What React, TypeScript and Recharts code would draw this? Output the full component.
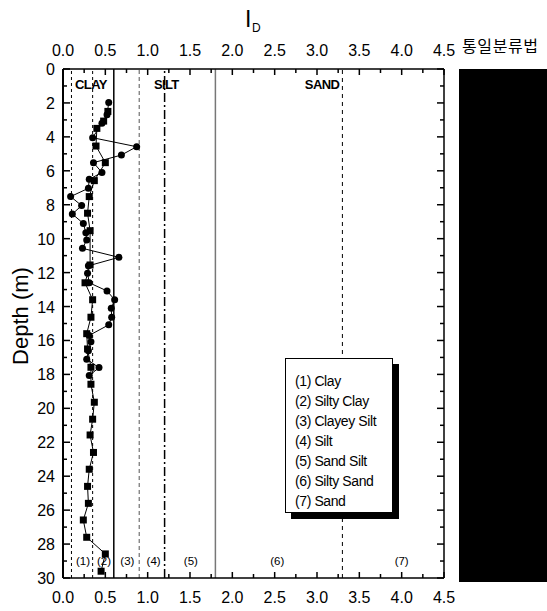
import React from "react";
import {
  ScatterChart,
  Scatter,
  XAxis,
  YAxis,
  ReferenceLine,
  ReferenceDot,
} from "recharts";

// circles (series 1)
const circleDepth = [
  1.98, 2.7, 3.2, 4.05, 4.58, 5.07, 5.52, 6.1, 6.5, 7.03, 7.52, 8.05, 8.55,
  9.1, 9.65, 10.08, 10.57, 11.1, 11.6, 12.04, 12.6, 13.08, 13.6, 14.1, 14.63,
  15.08, 15.7, 16.07, 16.6, 17.1, 17.6, 18.07,
];
const circleId = [
  0.54, 0.52, 0.46, 0.35, 0.87, 0.69, 0.36, 0.46, 0.31, 0.3, 0.09, 0.22, 0.11,
  0.24, 0.27, 0.28, 0.23, 0.66, 0.3, 0.29, 0.31, 0.52, 0.61, 0.57, 0.575, 0.54,
  0.31, 0.33, 0.3, 0.28, 0.425, 0.31,
];

// squares (series 2)
const squareDepth = [
  2.5, 3.07, 3.5, 4.54, 5.52, 6.58, 7.52, 8.5, 9.53, 11.55, 12.6, 13.6, 14.63,
  15.6, 16.5, 17.58, 18.58, 19.64, 20.64, 21.57, 22.6, 23.59, 24.6, 25.6,
  26.58, 27.6, 28.58, 29.6,
];
const squareId = [
  0.53, 0.48, 0.4, 0.39, 0.5, 0.37, 0.31, 0.29, 0.32, 0.32, 0.26, 0.35, 0.33,
  0.28, 0.29, 0.33, 0.33, 0.37, 0.35, 0.32, 0.36, 0.31, 0.29, 0.3, 0.24, 0.28,
  0.5, 0.45,
];

// axes
const xTicks = [
  0, 0.25, 0.5, 0.75, 1, 1.25, 1.5, 1.75, 2, 2.25, 2.5, 2.75, 3, 3.25, 3.5,
  3.75, 4, 4.25, 4.5,
];
const xMajor = [0, 0.5, 1, 1.5, 2, 2.5, 3, 3.5, 4, 4.5];
const yTicks = [
  0, 1, 2, 3, 4, 5, 6, 7, 8, 9, 10, 11, 12, 13, 14, 15, 16, 17, 18, 19, 20, 21,
  22, 23, 24, 25, 26, 27, 28, 29, 30,
];
const yMajor = [0, 2, 4, 6, 8, 10, 12, 14, 16, 18, 20, 22, 24, 26, 28, 30];

// soil zone boundaries and names
const zoneBounds = [0.1, 0.35, 0.6, 0.9, 1.2, 1.8, 3.3];
const zoneDash = ["3 3", "3 3", "", "4 3", "9 3 2 3", "", "4 4"];
const zoneColor = ["#000", "#000", "#000", "#555", "#000", "#777", "#000"];
const zoneNumbers = ["(1)", "(2)", "(3)", "(4)", "(5)", "(6)", "(7)"];
const zoneNumberX = [0.236, 0.485, 0.76, 1.07, 1.51, 2.53, 4.0];
const soilNames = ["CLAY", "SILT", "SAND"];
const soilNameX = [0.33, 1.22, 3.06];
const legendItems = [
  "(1) Clay",
  "(2) Silty Clay",
  "(3) Clayey Silt",
  "(4) Silt",
  "(5) Sand Silt",
  "(6) Silty Sand",
  "(7) Sand",
];

const circles = circleDepth.map((d, i) => ({ depth: d, id: circleId[i] }));
const squares = squareDepth.map((d, i) => ({ depth: d, id: squareId[i] }));

const FONT = "'Liberation Sans', Arial, sans-serif";

const BottomTick = (props: any) => {
  const { x, y, payload } = props;
  const major = xMajor.includes(payload.value);
  return (
    <g>
      <line x1={x} x2={x} y1={y} y2={y - (major ? 6 : 4)} stroke="#000" strokeWidth={1.5} />
      {major && (
        <text x={x} y={y + 25} textAnchor="middle" fontSize={16} fontFamily={FONT} fill="#000">
          {payload.value.toFixed(1)}
        </text>
      )}
    </g>
  );
};

const TopTick = (props: any) => {
  const { x, y, payload } = props;
  const major = xMajor.includes(payload.value);
  return (
    <g>
      <line x1={x} x2={x} y1={y} y2={y + (major ? 6 : 4)} stroke="#000" strokeWidth={1.5} />
      {major && (
        <text x={x} y={y - 13} textAnchor="middle" fontSize={16} fontFamily={FONT} fill="#000">
          {payload.value.toFixed(1)}
        </text>
      )}
    </g>
  );
};

const LeftTick = (props: any) => {
  const { x, y, payload } = props;
  const major = yMajor.includes(payload.value);
  return (
    <g>
      <line x1={x} x2={x + (major ? 7 : 4)} y1={y} y2={y} stroke="#000" strokeWidth={1.5} />
      {major && (
        <text x={x - 8} y={y + 6} textAnchor="end" fontSize={16} fontFamily={FONT} fill="#000">
          {payload.value}
        </text>
      )}
    </g>
  );
};

const RightTick = (props: any) => {
  const { x, y, payload } = props;
  const major = yMajor.includes(payload.value);
  return (
    <line x1={x} x2={x - (major ? 7 : 4)} y1={y} y2={y} stroke="#000" strokeWidth={1.5} />
  );
};

const CircleDot = (props: any) => <circle cx={props.cx} cy={props.cy} r={3.5} fill="#000" />;
const SquareDot = (props: any) => (
  <rect x={props.cx - 3.5} y={props.cy - 3.5} width={7} height={7} fill="#000" />
);
const NoDot = () => <g />;

const App = () => {
  return (
    <div style={{ position: "absolute", left: 0, top: 0, width: 547, height: 611, background: "#fff" }}>
      <ScatterChart width={547} height={611} margin={{ top: 39, right: 93, bottom: 3, left: 23 }}>
        <XAxis
          type="number"
          dataKey="id"
          domain={[0, 4.5]}
          ticks={xTicks}
          interval={0}
          height={30}
          tickSize={0}
          tickMargin={0}
          tick={<BottomTick />}
          axisLine={{ stroke: "#000", strokeWidth: 1.5 }}
        />
        <XAxis
          xAxisId="top"
          orientation="top"
          type="number"
          dataKey="id"
          domain={[0, 4.5]}
          ticks={xTicks}
          interval={0}
          height={30}
          tickSize={0}
          tickMargin={0}
          tick={<TopTick />}
          axisLine={{ stroke: "#000", strokeWidth: 1.5 }}
        />
        <YAxis
          type="number"
          dataKey="depth"
          domain={[0, 30]}
          reversed
          ticks={yTicks}
          interval={0}
          width={40}
          tickSize={0}
          tickMargin={0}
          tick={<LeftTick />}
          axisLine={{ stroke: "#000", strokeWidth: 2 }}
        />
        <YAxis
          yAxisId="right"
          orientation="right"
          type="number"
          dataKey="depth"
          domain={[0, 30]}
          reversed
          ticks={yTicks}
          interval={0}
          width={10}
          tickSize={0}
          tickMargin={0}
          tick={<RightTick />}
          axisLine={{ stroke: "#000", strokeWidth: 1.5 }}
        />
        {zoneBounds.map((b, i) => (
          <ReferenceLine
            key={b}
            x={b}
            stroke={zoneColor[i]}
            strokeWidth={i === 2 || i === 4 || i === 5 ? 1.5 : 1}
            strokeDasharray={zoneDash[i]}
          />
        ))}
        {soilNames.map((n, i) => (
          <ReferenceDot
            key={n}
            x={soilNameX[i]}
            y={0.88}
            r={0}
            stroke="none"
            label={{
              value: n,
              position: "center",
              fill: "#000",
              fontSize: 13,
              fontWeight: "bold",
              fontFamily: FONT,
              letterSpacing: -0.6,
            }}
          />
        ))}
        {zoneNumbers.map((n, i) => (
          <ReferenceDot
            key={n}
            x={zoneNumberX[i]}
            y={29}
            r={0}
            stroke="none"
            label={{ value: n, position: "center", fill: "#000", fontSize: 11.5, fontFamily: FONT }}
          />
        ))}
        {/* hidden copy bound to the top/right axes so that they are drawn */}
        <Scatter
          data={squares}
          xAxisId="top"
          yAxisId="right"
          shape={<NoDot />}
          isAnimationActive={false}
        />
        <Scatter
          data={squares}
          shape={<SquareDot />}
          line={{ stroke: "#000", strokeWidth: 1 }}
          isAnimationActive={false}
        />
        <Scatter
          data={circles}
          shape={<CircleDot />}
          line={{ stroke: "#000", strokeWidth: 1 }}
          isAnimationActive={false}
        />
      </ScatterChart>

      <svg
        width={547}
        height={611}
        style={{ position: "absolute", left: 0, top: 0, pointerEvents: "none" }}
      >
        <text x={245} y={27} fontSize={23} fontFamily={FONT} fill="#000">
          I
        </text>
        <text x={252} y={32} fontSize={12} fontFamily={FONT} fill="#000">
          D
        </text>
        <text
          x={22}
          y={316}
          transform="rotate(-90 22 316)"
          textAnchor="middle"
          dominantBaseline="middle"
          fontSize={22}
          fontFamily={FONT}
          fill="#000"
        >
          Depth (m)
        </text>
        <text
          x={462}
          y={52}
          fontSize={16}
          letterSpacing={0.6}
          fontFamily="'Noto Sans CJK KR', sans-serif"
          fill="#000"
        >
          통일분류법
        </text>
      </svg>

      <div
        style={{
          position: "absolute",
          left: 459,
          top: 69,
          width: 88,
          height: 513,
          background: "#000",
        }}
      />

      <div
        style={{
          position: "absolute",
          left: 285,
          top: 358,
          width: 108,
          height: 155,
          boxSizing: "border-box",
          border: "1px solid #000",
          background: "#fff",
          boxShadow: "6px 6px 0 #000",
          padding: "12px 0 0 9px",
          fontFamily: FONT,
          fontSize: 14,
          lineHeight: "20px",
          letterSpacing: -0.4,
          color: "#000",
        }}
      >
        {legendItems.map((t) => (
          <div key={t}>{t}</div>
        ))}
      </div>
    </div>
  );
};

export default App;
